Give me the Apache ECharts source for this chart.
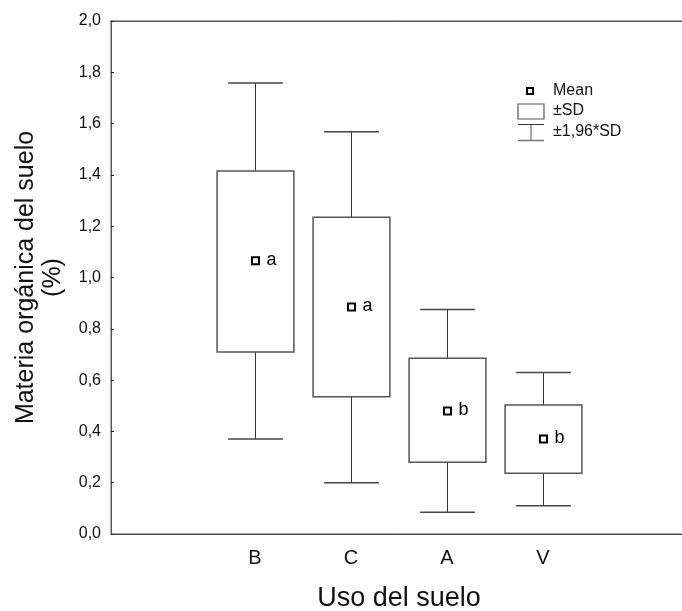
<!DOCTYPE html>
<html><head><meta charset="utf-8">
<script src="https://cdn.jsdelivr.net/npm/echarts@6/dist/echarts.min.js"></script>
<style>html,body{margin:0;padding:0;background:#fff}#c{width:682px;height:611px}</style>
</head><body><div id="c"></div>
<script>
const categories = ['', 'B', 'C', 'A', 'V', ''];
const groups = ['B', 'C', 'A', 'V'];
const lower196 = [0.37, 0.20, 0.085, 0.11];
const lowerSD = [0.71, 0.535, 0.28, 0.237];
const means = [1.065, 0.885, 0.48, 0.37];
const upperSD = [1.415, 1.235, 0.685, 0.503];
const upper196 = [1.758, 1.568, 0.875, 0.63];
const letters = ['a', 'a', 'b', 'b'];

const data = groups.map((g, i) => [categories.indexOf(g), lower196[i], lowerSD[i], means[i], upperSD[i], upper196[i], letters[i]]);

const chart = echarts.init(document.getElementById('c'));
const font = 'Arial, "Liberation Sans", sans-serif';
chart.setOption({
  animation: false,
  grid: {left: 111, top: 21, width: 576, height: 513, show: true, borderColor: '#555', borderWidth: 1,
    containLabel: false, outerBoundsMode: 'none'},
  xAxis: [{
    type: 'category', data: categories, position: 'bottom',
    axisLine: {lineStyle: {color: '#444'}},
    axisTick: {inside: true, length: 4, alignWithLabel: true, lineStyle: {color: '#222'}},
    axisLabel: {fontSize: 20, color: '#111', fontFamily: font, margin: 14},
    name: 'Uso del suelo', nameLocation: 'middle', nameGap: 51,
    nameTextStyle: {fontSize: 27, color: '#111', fontFamily: font}
  }, {
    type: 'category', data: categories, position: 'top',
    axisLine: {lineStyle: {color: '#555'}},
    axisTick: {inside: true, length: 4, alignWithLabel: true, lineStyle: {color: '#222'}},
    axisLabel: {show: false}
  }],
  yAxis: {
    type: 'value', min: 0, max: 2, interval: 0.2,
    axisLine: {show: true, lineStyle: {color: '#555'}},
    axisTick: {show: true, inside: true, length: 3, lineStyle: {color: '#222'}},
    splitLine: {show: false},
    axisLabel: {fontSize: 16, color: '#111', fontFamily: font, margin: 10,
      formatter: v => v.toFixed(1).replace('.', ',')},
    name: 'Materia orgánica del suelo\n(%)', nameLocation: 'middle', nameGap: 44,
    nameTextStyle: {fontSize: 25, color: '#111', fontFamily: font, lineHeight: 27}
  },
  series: [{
    type: 'custom',
    data: data,
    encode: {x: 0, y: [1, 2, 3, 4, 5]},
    renderItem: function (params, api) {
      const x = api.value(0);
      const pLo = api.coord([x, api.value(1)]);
      const pLsd = api.coord([x, api.value(2)]);
      const pM = api.coord([x, api.value(3)]);
      const pUsd = api.coord([x, api.value(4)]);
      const pHi = api.coord([x, api.value(5)]);
      const band = api.size([1, 0])[0];
      const bw = band * 0.8;
      const cw = band * 0.57;
      const cx = Math.round(pM[0]) + 0.5;
      const ls = {stroke: '#333', lineWidth: 1};
      return {
        type: 'group',
        children: [
          {type: 'line', shape: {x1: cx, y1: pHi[1], x2: cx, y2: pUsd[1]}, style: ls},
          {type: 'line', shape: {x1: cx, y1: pLsd[1], x2: cx, y2: pLo[1]}, style: ls},
          {type: 'line', shape: {x1: cx - cw / 2, y1: pHi[1], x2: cx + cw / 2, y2: pHi[1]}, style: {stroke: '#444', lineWidth: 1.5}},
          {type: 'line', shape: {x1: cx - cw / 2, y1: pLo[1], x2: cx + cw / 2, y2: pLo[1]}, style: {stroke: '#444', lineWidth: 1.5}},
          {type: 'rect', shape: {x: cx - bw / 2, y: pUsd[1], width: bw, height: pLsd[1] - pUsd[1]},
            style: {fill: '#fff', stroke: '#555', lineWidth: 1.5}},
          {type: 'rect', shape: {x: cx - 3.5, y: pM[1] - 3.5, width: 7, height: 7},
            style: {fill: '#fff', stroke: '#000', lineWidth: 2}},
          {type: 'text', x: cx + 11, y: pM[1] - 1,
            style: {text: api.value(6), fill: '#000', font: '18px ' + font, verticalAlign: 'middle', align: 'left'}}
        ]
      };
    }
  }],
  graphic: [
    {type: 'rect', shape: {x: 527, y: 88, width: 6, height: 6}, style: {fill: '#fff', stroke: '#000', lineWidth: 2}},
    {type: 'text', x: 553, y: 91, style: {text: 'Mean', font: '16px ' + font, fill: '#111', verticalAlign: 'middle'}},
    {type: 'rect', shape: {x: 518, y: 104, width: 26, height: 15}, style: {fill: '#fff', stroke: '#555', lineWidth: 1.2}},
    {type: 'text', x: 553, y: 111, style: {text: '±SD', font: '16px ' + font, fill: '#111', verticalAlign: 'middle'}},
    {type: 'line', shape: {x1: 518, y1: 124.5, x2: 544, y2: 124.5}, style: {stroke: '#333', lineWidth: 1}},
    {type: 'line', shape: {x1: 531, y1: 124.5, x2: 531, y2: 140.5}, style: {stroke: '#555', lineWidth: 1}},
    {type: 'line', shape: {x1: 518, y1: 140.5, x2: 544, y2: 140.5}, style: {stroke: '#777', lineWidth: 1.5}},
    {type: 'text', x: 553, y: 132, style: {text: '±1,96*SD', font: '16px ' + font, fill: '#111', verticalAlign: 'middle'}}
  ]
});
</script></body></html>
